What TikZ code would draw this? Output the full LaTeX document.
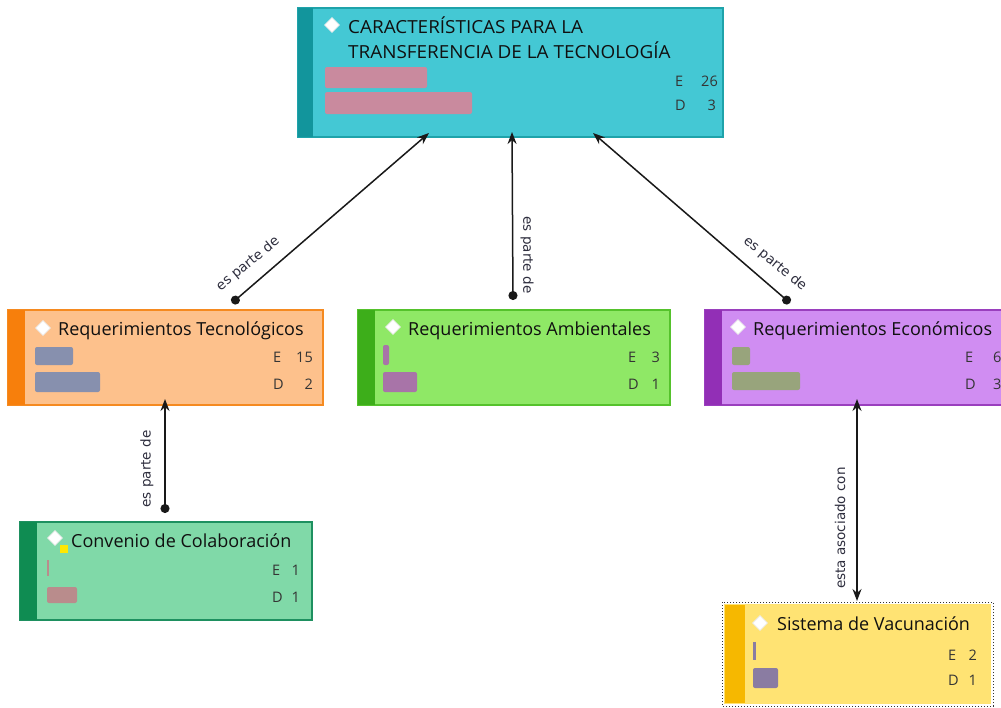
\documentclass[tikz,border=0pt]{standalone}
\usepackage{fontspec}
\setmainfont{Open Sans}
\newfontfamily\lblfont{DejaVu Sans}
\usetikzlibrary{arrows.meta,calc,shapes.geometric}
\definecolor{topF}{HTML}{44C8D4}
\definecolor{topS}{HTML}{12959C}
\definecolor{topB}{HTML}{1FA3AA}
\definecolor{orF}{HTML}{FDC18C}
\definecolor{orS}{HTML}{F77F0C}
\definecolor{orB}{HTML}{F58A20}
\definecolor{grF}{HTML}{8FE866}
\definecolor{grS}{HTML}{3DAE1A}
\definecolor{grB}{HTML}{55C22C}
\definecolor{viF}{HTML}{D08DF2}
\definecolor{viS}{HTML}{922FB6}
\definecolor{viB}{HTML}{9A3FBE}
\definecolor{miF}{HTML}{80D9A8}
\definecolor{miS}{HTML}{0F8C52}
\definecolor{miB}{HTML}{1E9060}
\definecolor{yeF}{HTML}{FFE373}
\definecolor{yeS}{HTML}{F6B800}
\definecolor{txt}{HTML}{101010}
\definecolor{lbl}{HTML}{2E2E3E}
\definecolor{barP}{HTML}{C98A9E}
\definecolor{barB}{HTML}{8790AE}
\definecolor{barM}{HTML}{A874A8}
\definecolor{barG}{HTML}{98A47C}
\definecolor{barR}{HTML}{B98C8C}
\definecolor{barS}{HTML}{8A7CA2}
\tikzset{
  card/.style={draw=#1, line width=1.2pt, anchor=north west, inner sep=0pt, outer sep=0pt},
  ttl/.style={anchor=base west, text=txt, font=\fontsize{18}{25}\selectfont, inner sep=0pt},
  cntL/.style={anchor=base west, text=txt!85, font=\fontsize{14.5}{16}\selectfont, inner sep=0pt},
  cntR/.style={anchor=base east, text=txt!85, font=\fontsize{14.5}{16}\selectfont, inner sep=0pt},
  icon/.style={diamond, fill=white, draw=white!75!black!30, line width=0.8pt, minimum width=15pt, minimum height=15pt, inner sep=0pt},
  bar/.style={rounded corners=2pt},
  link/.style={line width=1.5pt, draw=black!90, {Circle[length=9pt]}-{Stealth[length=12pt,width=9pt]}},
  linkb/.style={line width=1.5pt, draw=black!90, {Stealth[length=12pt,width=9pt]}-{Stealth[length=12pt,width=9pt]}},
  lab/.style={font=\lblfont\fontsize{13.5}{15}\selectfont, text=lbl, inner sep=1pt},
}
\begin{document}
\begin{tikzpicture}[x=1pt,y=-1pt]
\useasboundingbox (0,0) rectangle (1001,707);
\clip (0,0) rectangle (1001,707);
\fill[white] (0,0) rectangle (1001,707);

% ---------- top node
\node[card=topB, fill=topF, minimum width=425pt, minimum height=129pt] (top) at (298,8) {};
\fill[topS] (298,8) rectangle (313,137);
\node[icon] (topi) at (332,25) {};
\node[ttl, xscale=1.05] (topt1) at (348,33) {CARACTERÍSTICAS PARA LA};
\node[ttl, xscale=1.05] (topt2) at (348,58) {TRANSFERENCIA DE LA TECNOLOGÍA};
\fill[bar, barP] (325,67) rectangle (427,88);
\fill[bar, barP] (325,92) rectangle (472,114);
\node[cntL] (topE) at (675,86) {E};
\node[cntR] (topEn) at (718,86) {26};
\node[cntL] (topD) at (675,110) {D};
\node[cntR] (topDn) at (716,110) {3};

% ---------- Requerimientos Tecnologicos
\node[card=orB, fill=orF, minimum width=315pt, minimum height=95pt] (rt) at (8,310) {};
\fill[orS] (8,310) rectangle (25,405);
\node[icon] (rti) at (43,328) {};
\node[ttl] (rtt) at (58,335) {Requerimientos Tecnológicos};
\fill[bar, barB] (35,347) rectangle (73,365);
\fill[bar, barB] (35,372) rectangle (100,392);
\node[cntL] (rtE) at (273,362) {E};
\node[cntR] (rtEn) at (313,362) {15};
\node[cntL] (rtD) at (273,389) {D};
\node[cntR] (rtDn) at (313,389) {2};

% ---------- Requerimientos Ambientales
\node[card=grB, fill=grF, minimum width=312pt, minimum height=95pt] (ra) at (358,310) {};
\fill[grS] (358,310) rectangle (375,405);
\node[icon] (rai) at (393,327) {};
\node[ttl] (rat) at (408,335) {Requerimientos Ambientales};
\fill[bar, barM] (383,345) rectangle (389,365);
\fill[bar, barM] (383,372) rectangle (417,392);
\node[cntL] (raE) at (628,362) {E};
\node[cntR] (raEn) at (660,362) {3};
\node[cntL] (raD) at (628,389) {D};
\node[cntR] (raDn) at (660,389) {1};

% ---------- Requerimientos Economicos
\node[card=viB, fill=viF, minimum width=320pt, minimum height=95pt] (re) at (705,310) {};
\fill[viS] (705,310) rectangle (722,405);
\node[icon] (rei) at (738,327) {};
\node[ttl] (ret) at (753,335) {Requerimientos Económicos};
\fill[bar, barG] (732,347) rectangle (750,365);
\fill[bar, barG] (732,372) rectangle (800,390);
\node[cntL] (reE) at (965,362) {E};
\node[cntL] (reEn) at (993,362) {6};
\node[cntL] (reD) at (965,389) {D};
\node[cntL] (reDn) at (993,389) {3};

% ---------- Convenio de Colaboracion
\node[card=miB, fill=miF, minimum width=292pt, minimum height=98pt] (cc) at (20,522) {};
\fill[miS] (20,522) rectangle (37,620);
\node[icon] (cci) at (55,538) {};
\fill[yellow!90!orange] (60,545) rectangle (68,553);
\node[ttl] (cct) at (71,547) {Convenio de Colaboración};
\fill[barR] (47,560) rectangle (48.5,576);
\fill[bar, barR] (47,587) rectangle (77,603);
\node[cntL] (ccE) at (272,575) {E};
\node[cntR] (ccEn) at (300,575) {1};
\node[cntL] (ccD) at (272,602) {D};
\node[cntR] (ccDn) at (300,602) {1};

% ---------- Sistema de Vacunacion
\node[card=yeF, fill=yeF, minimum width=265pt, minimum height=98pt] (sv) at (725,605) {};
\fill[yeS] (725,605) rectangle (745,703);
\draw[dotted, line width=1pt, black!80] (722,602) rectangle (993,706);
\node[icon] (svi) at (760,623) {};
\node[ttl] (svt) at (777,630) {Sistema de Vacunación};
\fill[barS] (753,642) rectangle (755.5,660);
\fill[bar, barS] (753,668) rectangle (778,688);
\node[cntL] (svE) at (948,660) {E};
\node[cntR] (svEn) at (977,660) {2};
\node[cntL] (svD) at (948,685) {D};
\node[cntR] (svDn) at (977,685) {1};

% ---------- connectors
\draw[link] ($(rt.north west)+(224,-7)$) coordinate (s1) -- ($(top.south west)+(131,-4)$) coordinate (t1);
\node[lab, rotate=39.3] (l1) at (248,264) {es parte de};
\draw[link] ($(ra.north west)+(155,-10)$) coordinate (s2) -- ($(top.south west)+(214,-5)$) coordinate (t2);
\node[lab, rotate=-90] (l2) at (527,255) {es parte de};
\draw[link] ($(re.north west)+(85,-7)$) coordinate (s3) -- ($(top.south west)+(295,-4)$) coordinate (t3);
\node[lab, rotate=-39.4] (l3) at (775,264) {es parte de};
\draw[link] ($(cc.north west)+(145,-9)$) coordinate (s4) -- ($(rt.south west)+(157,-6)$) coordinate (t4);
\node[lab, rotate=90] (l4) at (147,469) {es parte de};
\draw[linkb] ($(sv.north west)+(132,-4)$) coordinate (s5) -- ($(re.south west)+(152,-6)$) coordinate (t5);
\node[lab, rotate=90] (l5) at (840,528) {esta asociado con};
\end{tikzpicture}
\end{document}
